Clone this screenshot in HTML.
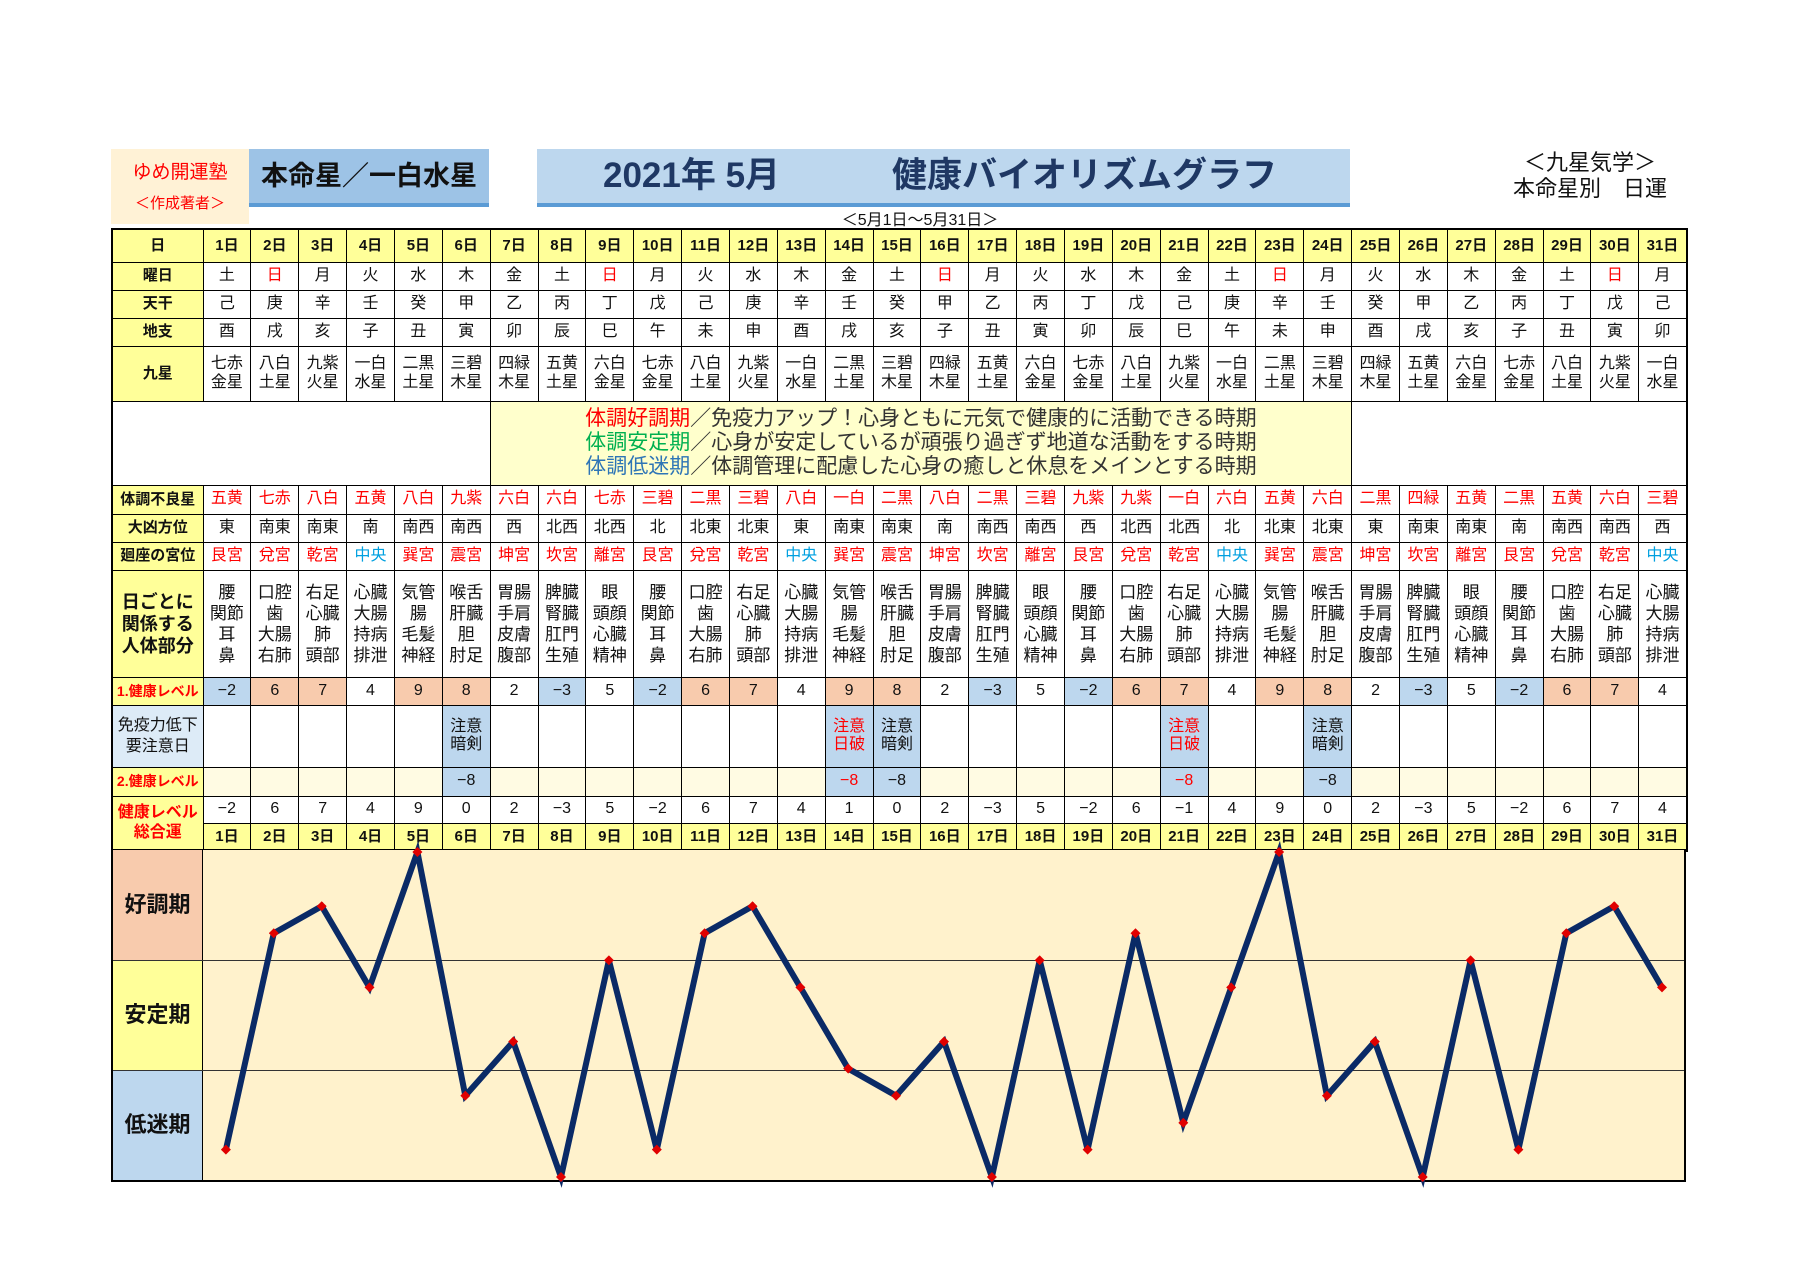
<!DOCTYPE html>
<html><head><meta charset="utf-8">
<style>
*{margin:0;padding:0;box-sizing:border-box}
body{width:1800px;height:1273px;background:#fff;position:relative;font-family:"Liberation Sans","Noto Sans CJK JP",sans-serif;color:#111;overflow:hidden}
.abs{position:absolute}
table{position:absolute;left:111px;top:228px;width:1575px;border-collapse:collapse;table-layout:fixed;border:2px solid #000}
td{border:1px solid #000;text-align:center;vertical-align:middle;font-size:16px;line-height:1.15;padding:0;overflow:hidden;white-space:nowrap}
td.l{background:#ffff99;font-weight:bold;font-size:15px}
tr.hd td{background:#ffff99;font-weight:bold;font-size:15px}
.r{color:#f00}.c{color:#00a0e0}
.b{background:#bdd7ee}.p{background:#f8cbad}
tr.lv2 td{background:#fffbe3}
tr.lv2 td.b{background:#bdd7ee}
tr.body td{line-height:21px;font-size:17px}
</style></head><body>
<div class="abs" style="left:111px;top:149px;width:138px;height:75px;background:#fff2d6;text-align:center;color:#f00">
 <div style="font-size:19px;margin-top:8px">ゆめ開運塾</div>
 <div style="font-size:15px;margin-top:8px">＜作成著者＞</div>
</div>
<div class="abs" style="left:249px;top:149px;width:240px;height:58px;background:#9dc3e6;border-bottom:4px solid #5b9bd5;font-size:27px;font-weight:bold;line-height:54px;padding-left:12px">本命星／一白水星</div>
<div class="abs" style="left:537px;top:149px;width:813px;height:58px;background:#bdd7ee;border-bottom:4px solid #5b9bd5;font-size:35px;font-weight:bold;color:#1f3864;line-height:54px">
 <span class="abs" style="left:66px">2021年 5月</span><span class="abs" style="left:355px">健康バイオリズムグラフ</span>
</div>
<div class="abs" style="left:820px;top:206px;width:200px;text-align:center;font-size:16px">＜5月1日～5月31日＞</div>
<div class="abs" style="left:1490px;top:150px;width:200px;text-align:center;font-size:22px;line-height:26px">＜九星気学＞<br>本命星別　日運</div>

<table>
<colgroup><col style="width:91px"><col span="31" style="width:47.87px"></colgroup>
<tr class="hd" style="height:33px"><td>日</td><td>1日</td><td>2日</td><td>3日</td><td>4日</td><td>5日</td><td>6日</td><td>7日</td><td>8日</td><td>9日</td><td>10日</td><td>11日</td><td>12日</td><td>13日</td><td>14日</td><td>15日</td><td>16日</td><td>17日</td><td>18日</td><td>19日</td><td>20日</td><td>21日</td><td>22日</td><td>23日</td><td>24日</td><td>25日</td><td>26日</td><td>27日</td><td>28日</td><td>29日</td><td>30日</td><td>31日</td></tr>
<tr style="height:28px"><td class="l">曜日</td><td>土</td><td class="r">日</td><td>月</td><td>火</td><td>水</td><td>木</td><td>金</td><td>土</td><td class="r">日</td><td>月</td><td>火</td><td>水</td><td>木</td><td>金</td><td>土</td><td class="r">日</td><td>月</td><td>火</td><td>水</td><td>木</td><td>金</td><td>土</td><td class="r">日</td><td>月</td><td>火</td><td>水</td><td>木</td><td>金</td><td>土</td><td class="r">日</td><td>月</td></tr>
<tr style="height:28px"><td class="l">天干</td><td>己</td><td>庚</td><td>辛</td><td>壬</td><td>癸</td><td>甲</td><td>乙</td><td>丙</td><td>丁</td><td>戊</td><td>己</td><td>庚</td><td>辛</td><td>壬</td><td>癸</td><td>甲</td><td>乙</td><td>丙</td><td>丁</td><td>戊</td><td>己</td><td>庚</td><td>辛</td><td>壬</td><td>癸</td><td>甲</td><td>乙</td><td>丙</td><td>丁</td><td>戊</td><td>己</td></tr>
<tr style="height:28px"><td class="l">地支</td><td>酉</td><td>戌</td><td>亥</td><td>子</td><td>丑</td><td>寅</td><td>卯</td><td>辰</td><td>巳</td><td>午</td><td>未</td><td>申</td><td>酉</td><td>戌</td><td>亥</td><td>子</td><td>丑</td><td>寅</td><td>卯</td><td>辰</td><td>巳</td><td>午</td><td>未</td><td>申</td><td>酉</td><td>戌</td><td>亥</td><td>子</td><td>丑</td><td>寅</td><td>卯</td></tr>
<tr style="height:55px"><td class="l">九星</td><td>七赤<br>金星</td><td>八白<br>土星</td><td>九紫<br>火星</td><td>一白<br>水星</td><td>二黒<br>土星</td><td>三碧<br>木星</td><td>四緑<br>木星</td><td>五黄<br>土星</td><td>六白<br>金星</td><td>七赤<br>金星</td><td>八白<br>土星</td><td>九紫<br>火星</td><td>一白<br>水星</td><td>二黒<br>土星</td><td>三碧<br>木星</td><td>四緑<br>木星</td><td>五黄<br>土星</td><td>六白<br>金星</td><td>七赤<br>金星</td><td>八白<br>土星</td><td>九紫<br>火星</td><td>一白<br>水星</td><td>二黒<br>土星</td><td>三碧<br>木星</td><td>四緑<br>木星</td><td>五黄<br>土星</td><td>六白<br>金星</td><td>七赤<br>金星</td><td>八白<br>土星</td><td>九紫<br>火星</td><td>一白<br>水星</td></tr>
<tr style="height:84px"><td colspan="7"></td><td colspan="18" style="background:#ffffcc;font-size:21px;line-height:24px;color:#333"><span class="r">体調好調期</span>／免疫力アップ！心身ともに元気で健康的に活動できる時期<br><span style="color:#00b050">体調安定期</span>／心身が安定しているが頑張り過ぎず地道な活動をする時期<br><span style="color:#2e75b6">体調低迷期</span>／体調管理に配慮した心身の癒しと休息をメインとする時期</td><td colspan="7"></td></tr>
<tr style="height:29px" class="r"><td class="l" style="color:#111">体調不良星</td><td>五黄</td><td>七赤</td><td>八白</td><td>五黄</td><td>八白</td><td>九紫</td><td>六白</td><td>六白</td><td>七赤</td><td>三碧</td><td>二黒</td><td>三碧</td><td>八白</td><td>一白</td><td>二黒</td><td>八白</td><td>二黒</td><td>三碧</td><td>九紫</td><td>九紫</td><td>一白</td><td>六白</td><td>五黄</td><td>六白</td><td>二黒</td><td>四緑</td><td>五黄</td><td>二黒</td><td>五黄</td><td>六白</td><td>三碧</td></tr>
<tr style="height:28px"><td class="l">大凶方位</td><td>東</td><td>南東</td><td>南東</td><td>南</td><td>南西</td><td>南西</td><td>西</td><td>北西</td><td>北西</td><td>北</td><td>北東</td><td>北東</td><td>東</td><td>南東</td><td>南東</td><td>南</td><td>南西</td><td>南西</td><td>西</td><td>北西</td><td>北西</td><td>北</td><td>北東</td><td>北東</td><td>東</td><td>南東</td><td>南東</td><td>南</td><td>南西</td><td>南西</td><td>西</td></tr>
<tr style="height:28px" class="r"><td class="l" style="color:#111">廻座の宮位</td><td>艮宮</td><td>兌宮</td><td>乾宮</td><td class="c">中央</td><td>巽宮</td><td>震宮</td><td>坤宮</td><td>坎宮</td><td>離宮</td><td>艮宮</td><td>兌宮</td><td>乾宮</td><td class="c">中央</td><td>巽宮</td><td>震宮</td><td>坤宮</td><td>坎宮</td><td>離宮</td><td>艮宮</td><td>兌宮</td><td>乾宮</td><td class="c">中央</td><td>巽宮</td><td>震宮</td><td>坤宮</td><td>坎宮</td><td>離宮</td><td>艮宮</td><td>兌宮</td><td>乾宮</td><td class="c">中央</td></tr>
<tr style="height:107px" class="body"><td class="l" style="font-size:18px;line-height:22px">日ごとに<br>関係する<br>人体部分</td><td>腰<br>関節<br>耳<br>鼻</td><td>口腔<br>歯<br>大腸<br>右肺</td><td>右足<br>心臓<br>肺<br>頭部</td><td>心臓<br>大腸<br>持病<br>排泄</td><td>気管<br>腸<br>毛髪<br>神経</td><td>喉舌<br>肝臓<br>胆<br>肘足</td><td>胃腸<br>手肩<br>皮膚<br>腹部</td><td>脾臓<br>腎臓<br>肛門<br>生殖</td><td>眼<br>頭顔<br>心臓<br>精神</td><td>腰<br>関節<br>耳<br>鼻</td><td>口腔<br>歯<br>大腸<br>右肺</td><td>右足<br>心臓<br>肺<br>頭部</td><td>心臓<br>大腸<br>持病<br>排泄</td><td>気管<br>腸<br>毛髪<br>神経</td><td>喉舌<br>肝臓<br>胆<br>肘足</td><td>胃腸<br>手肩<br>皮膚<br>腹部</td><td>脾臓<br>腎臓<br>肛門<br>生殖</td><td>眼<br>頭顔<br>心臓<br>精神</td><td>腰<br>関節<br>耳<br>鼻</td><td>口腔<br>歯<br>大腸<br>右肺</td><td>右足<br>心臓<br>肺<br>頭部</td><td>心臓<br>大腸<br>持病<br>排泄</td><td>気管<br>腸<br>毛髪<br>神経</td><td>喉舌<br>肝臓<br>胆<br>肘足</td><td>胃腸<br>手肩<br>皮膚<br>腹部</td><td>脾臓<br>腎臓<br>肛門<br>生殖</td><td>眼<br>頭顔<br>心臓<br>精神</td><td>腰<br>関節<br>耳<br>鼻</td><td>口腔<br>歯<br>大腸<br>右肺</td><td>右足<br>心臓<br>肺<br>頭部</td><td>心臓<br>大腸<br>持病<br>排泄</td></tr>
<tr style="height:28px"><td class="l r" style="font-size:14px">1.健康レベル</td><td class="b">−2</td><td class="p">6</td><td class="p">7</td><td>4</td><td class="p">9</td><td class="p">8</td><td>2</td><td class="b">−3</td><td>5</td><td class="b">−2</td><td class="p">6</td><td class="p">7</td><td>4</td><td class="p">9</td><td class="p">8</td><td>2</td><td class="b">−3</td><td>5</td><td class="b">−2</td><td class="p">6</td><td class="p">7</td><td>4</td><td class="p">9</td><td class="p">8</td><td>2</td><td class="b">−3</td><td>5</td><td class="b">−2</td><td class="p">6</td><td class="p">7</td><td>4</td></tr>
<tr style="height:62px"><td style="background:#ddebf7;font-size:16px;line-height:21px">免疫力低下<br>要注意日</td><td></td><td></td><td></td><td></td><td></td><td class="b">注意<br>暗剣</td><td></td><td></td><td></td><td></td><td></td><td></td><td></td><td class="b r">注意<br>日破</td><td class="b">注意<br>暗剣</td><td></td><td></td><td></td><td></td><td></td><td class="b r">注意<br>日破</td><td></td><td></td><td class="b">注意<br>暗剣</td><td></td><td></td><td></td><td></td><td></td><td></td><td></td></tr>
<tr style="height:29px" class="lv2"><td class="l r" style="font-size:14px;background:#ffff99">2.健康レベル</td><td></td><td></td><td></td><td></td><td></td><td class="b">−8</td><td></td><td></td><td></td><td></td><td></td><td></td><td></td><td class="b r">−8</td><td class="b">−8</td><td></td><td></td><td></td><td></td><td></td><td class="b r">−8</td><td></td><td></td><td class="b">−8</td><td></td><td></td><td></td><td></td><td></td><td></td><td></td></tr>
<tr style="height:27px"><td class="l r" rowspan="2" style="font-size:16px;line-height:20px">健康レベル<br>総合運</td><td>−2</td><td>6</td><td>7</td><td>4</td><td>9</td><td>0</td><td>2</td><td>−3</td><td>5</td><td>−2</td><td>6</td><td>7</td><td>4</td><td>1</td><td>0</td><td>2</td><td>−3</td><td>5</td><td>−2</td><td>6</td><td>−1</td><td>4</td><td>9</td><td>0</td><td>2</td><td>−3</td><td>5</td><td>−2</td><td>6</td><td>7</td><td>4</td></tr>
<tr class="hd" style="height:28px"><td>1日</td><td>2日</td><td>3日</td><td>4日</td><td>5日</td><td>6日</td><td>7日</td><td>8日</td><td>9日</td><td>10日</td><td>11日</td><td>12日</td><td>13日</td><td>14日</td><td>15日</td><td>16日</td><td>17日</td><td>18日</td><td>19日</td><td>20日</td><td>21日</td><td>22日</td><td>23日</td><td>24日</td><td>25日</td><td>26日</td><td>27日</td><td>28日</td><td>29日</td><td>30日</td><td>31日</td></tr>
</table>

<div class="abs" style="left:111px;top:849px;width:1575px;height:333px;border:2px solid #000;border-top:1px solid #000;background:#fff2cc"></div>
<div class="abs" style="left:113px;top:850px;width:89px;height:110px;background:#f8cbad;font-size:22px;font-weight:bold;line-height:110px;text-align:center">好調期</div>
<div class="abs" style="left:113px;top:960px;width:89px;height:110px;background:#ffff99;font-size:22px;font-weight:bold;line-height:110px;text-align:center">安定期</div>
<div class="abs" style="left:113px;top:1070px;width:89px;height:110px;background:#bdd7ee;font-size:22px;font-weight:bold;line-height:110px;text-align:center">低迷期</div>
<div class="abs" style="left:202px;top:849px;width:1px;height:333px;background:#000"></div>
<div class="abs" style="left:113px;top:960px;width:1571px;height:1px;background:#333"></div>
<div class="abs" style="left:113px;top:1070px;width:1571px;height:1px;background:#333"></div>
<svg class="abs" style="left:0;top:0" width="1800" height="1273">
<defs><marker id="d" viewBox="-5 -5 10 10" markerWidth="10" markerHeight="10" markerUnits="userSpaceOnUse"><path d="M0,-5L5,0L0,5L-5,0Z" fill="#e00000"/></marker></defs>
<polyline fill="none" stroke="#0a2a66" stroke-width="6" stroke-linejoin="miter" marker-start="url(#d)" marker-mid="url(#d)" marker-end="url(#d)"
points="225.9,1149.6 273.8,933.2 321.7,906.2 369.5,987.4 417.4,852 465.3,1095.7 513.2,1041.6 561,1177 608.9,960.3 656.8,1149.6 704.6,933.2 752.5,906.2 800.4,987.4 848.2,1068.6 896.1,1095.7 944,1041.6 991.9,1177 1039.7,960.3 1087.6,1149.6 1135.5,933.2 1183.3,1122.8 1231.2,987.4 1279.1,852 1326.9,1095.7 1374.8,1041.6 1422.7,1177 1470.6,960.3 1518.4,1149.6 1566.3,933.2 1614.2,906.2 1662,987.4"/>
</svg>
</body></html>
